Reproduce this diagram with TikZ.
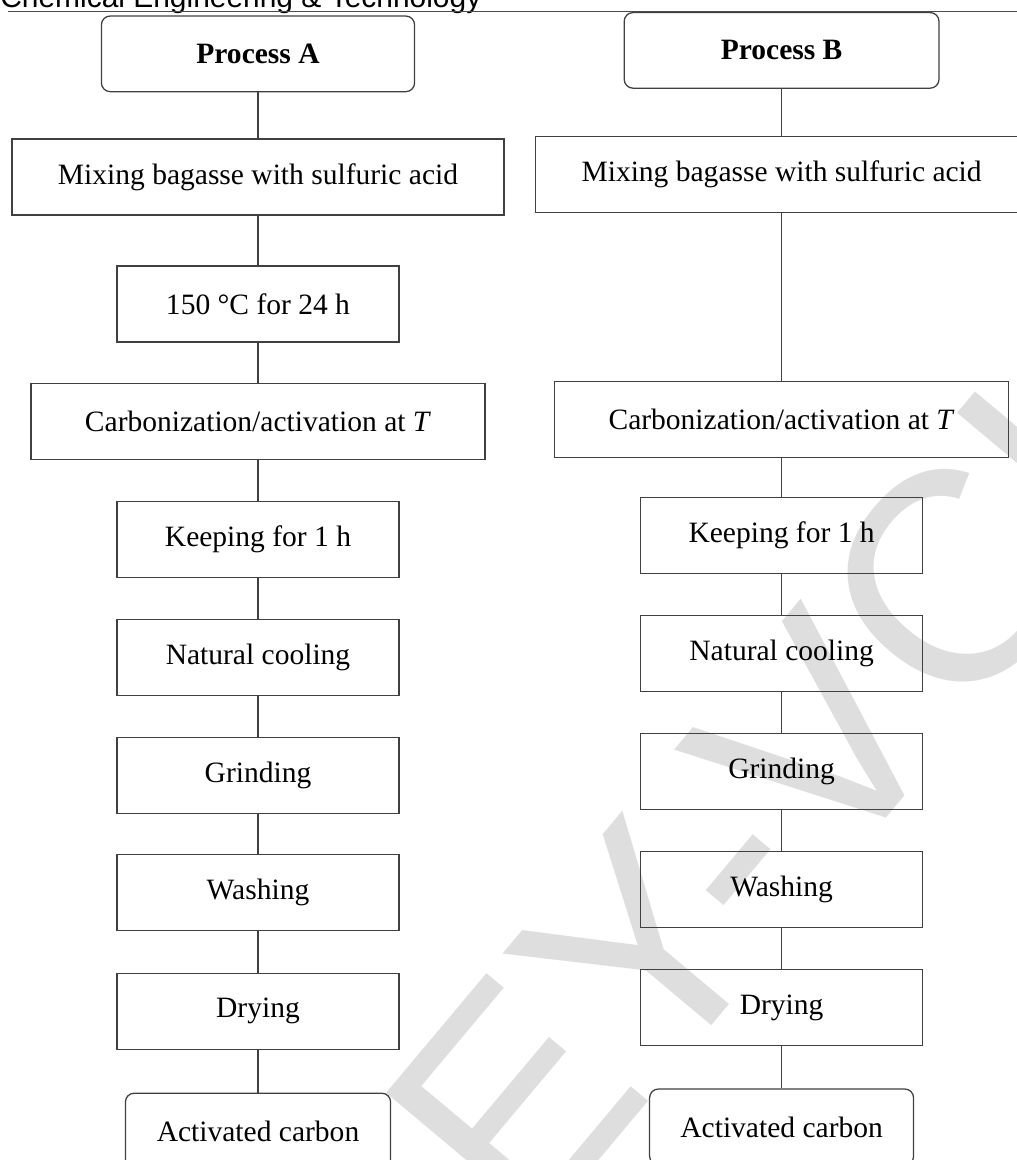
\documentclass[tikz,border=0pt]{standalone}
\usepackage{fontspec}
\setmainfont{Liberation Serif}
\newfontfamily\headfont{Liberation Sans}
\tikzset{
  stepbox/.style={draw=black!75, line width=0.9pt, minimum width=7.05cm,
    minimum height=1.9cm, inner sep=0pt, align=center,
    font=\fontsize{21}{25}\selectfont},
  widebox/.style={stepbox, minimum width=11.35cm},
  mixbox/.style={stepbox, minimum width=12.3cm},
  endbox/.style={stepbox, rounded corners=0.22cm},
  link/.style={draw=black!75, line width=0.8pt}
}
\begin{document}
\begin{tikzpicture}
  \useasboundingbox (0,0) rectangle (25.425,-29);

  % Watermark behind the chart
  \node[text=black!13, font=\headfont\fontsize{213}{213}\selectfont,
    rotate=50, anchor=base west, inner sep=0pt, outer sep=0pt]
    (mark) at (4.658,-41.32) {WILEY-VCH};

  % Journal header
  \node[font=\headfont\fontsize{21.3}{24}\selectfont, anchor=base west,
    inner sep=0pt] (head) at (0,-0.19) {Chemical Engineering \& Technology};
  \draw[black!70, line width=0.7pt] (0.2,-0.283) -- (25.425,-0.283);

  % === Process A ===
  \node[endbox, minimum width=7.83cm, minimum height=1.89cm] (pa) at (6.45,-1.346)
    {\textbf{Process A}};
  \node[mixbox] (a1) at (6.45,-4.425) {Mixing bagasse with sulfuric acid};
  \node[stepbox] (a2) at (6.45,-7.6) {150 °C for 24 h};
  \node[widebox] (a3) at (6.45,-10.54) {Carbonization/activation at \textit{T}};
  \node[stepbox] (a4) at (6.45,-13.49) {Keeping for 1 h};
  \node[stepbox] (a5) at (6.45,-16.44) {Natural cooling};
  \node[stepbox] (a6) at (6.45,-19.38) {Grinding};
  \node[stepbox] (a7) at (6.45,-22.32) {Washing};
  \node[stepbox] (a8) at (6.45,-25.28) {Drying};
  \node[endbox, minimum width=6.63cm] (a9) at (6.45,-28.28) {Activated carbon};

  % === Process B ===
  \node[endbox, minimum width=7.87cm, minimum height=1.89cm] (pb) at (19.54,-1.259)
    {\textbf{Process B}};
  \node[mixbox] (b1) at (19.54,-4.3675) {Mixing bagasse with sulfuric acid};
  \node[widebox] (b3) at (19.54,-10.49) {Carbonization/activation at \textit{T}};
  \node[stepbox] (b4) at (19.54,-13.39) {Keeping for 1 h};
  \node[stepbox] (b5) at (19.54,-16.34) {Natural cooling};
  \node[stepbox] (b6) at (19.54,-19.29) {Grinding};
  \node[stepbox] (b7) at (19.54,-22.23) {Washing};
  \node[stepbox] (b8) at (19.54,-25.19) {Drying};
  \node[endbox, minimum width=6.6cm] (b9) at (19.54,-28.175) {Activated carbon};

  % Connectors
  \draw[link] (pa) -- (a1) (a1) -- (a2) (a2) -- (a3) (a3) -- (a4)
    (a4) -- (a5) (a5) -- (a6) (a6) -- (a7) (a7) -- (a8) (a8) -- (a9);
  \draw[link] (pb) -- (b1) (b1) -- (b3) (b3) -- (b4)
    (b4) -- (b5) (b5) -- (b6) (b6) -- (b7) (b7) -- (b8) (b8) -- (b9);

\end{tikzpicture}
\end{document}
